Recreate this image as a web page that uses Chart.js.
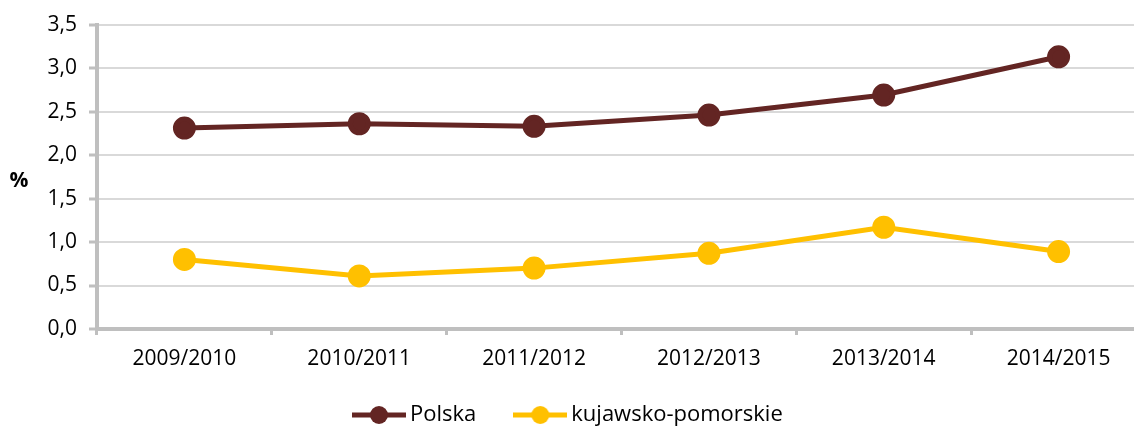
<!DOCTYPE html>
<html>
<head>
<meta charset="utf-8">
<script src="https://cdn.jsdelivr.net/npm/chart.js@4/dist/chart.umd.min.js"></script>
<style>
  html, body { margin: 0; padding: 0; background: #fff; overflow: hidden; }
  canvas { display: block; }
</style>
</head>
<body>
<canvas id="chart" width="1134" height="426"></canvas>
<script>
// dane
const lata = ['2009/2010', '2010/2011', '2011/2012', '2012/2013', '2013/2014', '2014/2015'];
const polska = [2.31, 2.36, 2.33, 2.46, 2.69, 3.13];
const kujawskoPomorskie = [0.80, 0.61, 0.70, 0.87, 1.17, 0.89];
const yTicks = [0, 0.5, 1, 1.5, 2, 2.5, 3, 3.5];

const fontFamily = '"Open Sans", "Liberation Sans", sans-serif';

// ikonka legendy: linia z kółkiem
function legendIcon(color) {
    const c = document.createElement('canvas');
    c.width = 54; c.height = 20;
    const g = c.getContext('2d');
    g.strokeStyle = color;
    g.lineWidth = 5;
    g.beginPath(); g.moveTo(0, 10); g.lineTo(54, 10); g.stroke();
    g.fillStyle = color;
    g.beginPath(); g.arc(27, 10, 9, 0, Math.PI * 2); g.fill();
    return c;
}

const ctx = document.getElementById('chart').getContext('2d');
new Chart(ctx, {
    type: 'line',
    data: {
        labels: lata,
        datasets: [{
            label: 'Polska',
            data: polska,
            borderColor: '#632523',
            backgroundColor: '#632523',
            borderWidth: 5,
            pointRadius: 9,
            pointHoverRadius: 9,
            tension: 0
        }, {
            label: 'kujawsko-pomorskie',
            data: kujawskoPomorskie,
            borderColor: '#ffc000',
            backgroundColor: '#ffc000',
            borderWidth: 5,
            pointRadius: 9,
            pointHoverRadius: 9,
            tension: 0
        }]
    },
    options: {
        responsive: false,
        animation: false,
        layout: { padding: { top: 12, left: 0, right: 0, bottom: 0 } },
        plugins: {
            tooltip: { enabled: false },
            legend: {
                position: 'bottom',
                align: 'start',
                labels: {
                    usePointStyle: true,
                    pointStyleWidth: 40,
                    padding: 44,
                    color: '#000',
                    font: { family: fontFamily, size: 22 },
                    generateLabels: chart => chart.data.datasets.map((ds, i) => ({
                        text: ds.label,
                        pointStyle: legendIcon(ds.borderColor),
                        fillStyle: ds.borderColor,
                        strokeStyle: ds.borderColor,
                        lineWidth: 0,
                        datasetIndex: i,
                        hidden: false
                    }))
                }
            }
        },
        scales: {
            x: {
                offset: true,
                afterFit: scale => {
                    scale.height = 43;
                    scale.paddingLeft = 0;
                    scale.paddingRight = 0;
                },
                grid: {
                    offset: true,
                    drawOnChartArea: false,
                    tickLength: 6,
                    tickColor: '#bfbfbf',
                    tickWidth: 3
                },
                border: { color: '#bfbfbf', width: 4 },
                ticks: {
                    color: '#000',
                    padding: 11,
                    font: { family: fontFamily, size: 21 }
                }
            },
            y: {
                min: 0,
                max: 3.5,
                afterBuildTicks: scale => { scale.ticks = yTicks.map(v => ({ value: v })); },
                afterFit: scale => { scale.width = 97; },
                grid: {
                    color: '#d9d9d9',
                    lineWidth: 2,
                    tickLength: 8,
                    tickColor: '#bfbfbf',
                    tickWidth: 3
                },
                border: { color: '#bfbfbf', width: 4 },
                ticks: {
                    color: '#000',
                    padding: 12,
                    font: { family: fontFamily, size: 21 },
                    callback: v => v.toFixed(1).replace('.', ',')
                }
            }
        }
    },
    plugins: [{
        id: 'legendPos',
        beforeLayout(chart) {
            const lg = chart.legend;
            if (!lg || lg._fitPatched) return;
            const fit = lg.fit.bind(lg);
            lg.fit = function () { fit(); this.height = 54; };
            lg._fitPatched = true;
        },
        afterLayout(chart) {
            // obszar wykresu wychodzi poza prawą krawędź, jak w oryginale
            const extra = 26;
            const xs = chart.scales.x;
            xs.right += extra;
            xs.width += extra;
            xs.configure();
            chart.chartArea.right += extra;
            chart.chartArea.width += extra;

            const lg = chart.legend;
            if (!lg) return;
            const pad = lg.options.labels.padding;
            const dx = 359 - lg.left - pad;
            lg.left += dx; lg.right += dx;
            lg.top = 418 - pad - 14;
        }
    }, {
        // tytuł osi Y poziomo
        id: 'yTitle',
        afterDraw(chart) {
            const c = chart.ctx;
            c.save();
            c.font = 'bold 21px ' + fontFamily;
            c.fillStyle = '#000';
            c.textAlign = 'center';
            c.textBaseline = 'middle';
            c.fillText('%', 19, 181);
            c.restore();
        }
    }]
});
</script>
</body>
</html>
